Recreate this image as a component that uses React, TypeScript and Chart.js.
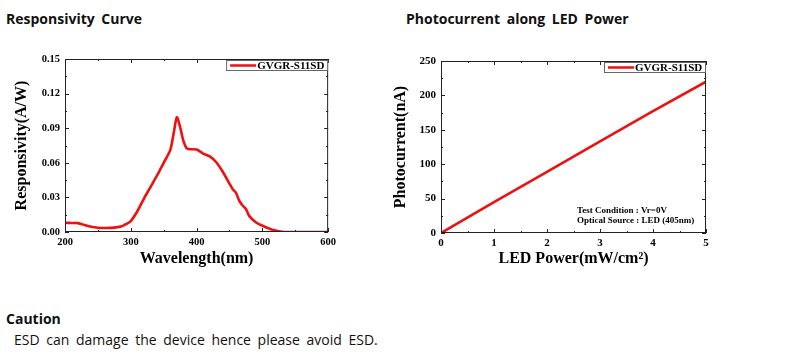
import React, { useEffect, useRef } from "react";
import { Chart, registerables } from "chart.js";

Chart.register(...registerables);

// ---------- Data ----------
const wavelengths = [200, 210, 220, 230, 240, 250, 260, 270, 280, 285, 290, 300, 310, 320, 330, 340, 350, 360, 365, 370, 375, 380, 385, 390, 400, 410, 420, 430, 440, 450, 455, 460, 465, 470, 475, 480, 490, 500, 510, 520, 530, 540, 560, 580, 600];
const responsivity = [0.008, 0.0078, 0.0077, 0.006, 0.0045, 0.0037, 0.0035, 0.0036, 0.0042, 0.0048, 0.006, 0.0095, 0.018, 0.029, 0.039, 0.049, 0.060, 0.071, 0.085, 0.0995, 0.091, 0.079, 0.0725, 0.0718, 0.0715, 0.068, 0.0655, 0.0605, 0.052, 0.042, 0.037, 0.034, 0.027, 0.023, 0.020, 0.014, 0.0085, 0.0055, 0.003, 0.0012, 0.0002, 0.0, 0.0, 0.0, 0.0];
const respXTicks = [200, 300, 400, 500, 600];
const respYTicks = [0, 0.03, 0.06, 0.09, 0.12, 0.15];

const ledPower = [0, 1, 2, 3, 4, 5];
const photocurrent = [0, 45, 89, 133, 177, 220];
const powerXTicks = [0, 1, 2, 3, 4, 5];
const currentYTicks = [0, 50, 100, 150, 200, 250];

const seriesLabel = "GVGR-S11SD";
const noteLines = ["Test Condition : Vr=0V", "Optical Source : LED (405nm)"];

const RED = "#ee1111";
const SERIF = "'Liberation Serif', 'Times New Roman', serif";
const SANS = "'Open Sans', 'Noto Sans', sans-serif";

function mid(arr: number[]) {
  const out: number[] = [];
  for (let i = 0; i < arr.length - 1; i++) out.push((arr[i] + arr[i + 1]) / 2);
  return out;
}

function framePlugin(cfg: {
  xMajor: number[];
  yMajor: number[];
  legendFont: number;
  notes?: string[];
}) {
  return {
    id: "frameDeco",
    afterDraw(chart: any) {
      const { ctx, chartArea: a } = chart;
      const xs = chart.scales.x;
      const ys = chart.scales.y;
      ctx.save();
      ctx.strokeStyle = "#222";
      ctx.lineWidth = 1;
      ctx.strokeRect(a.left + 0.5, a.top + 0.5, a.right - a.left - 1, a.bottom - a.top - 1);
      const drawX = (vals: number[], len: number) => {
        vals.forEach((v) => {
          const p = Math.round(xs.getPixelForValue(v)) + 0.5;
          ctx.beginPath();
          ctx.moveTo(p, a.bottom);
          ctx.lineTo(p, a.bottom - len);
          ctx.moveTo(p, a.top);
          ctx.lineTo(p, a.top + len);
          ctx.stroke();
        });
      };
      const drawY = (vals: number[], len: number) => {
        vals.forEach((v) => {
          const p = Math.round(ys.getPixelForValue(v)) + 0.5;
          ctx.beginPath();
          ctx.moveTo(a.left, p);
          ctx.lineTo(a.left + len, p);
          ctx.moveTo(a.right, p);
          ctx.lineTo(a.right - len, p);
          ctx.stroke();
        });
      };
      drawX(cfg.xMajor, 4);
      drawX(mid(cfg.xMajor), 2);
      drawY(cfg.yMajor, 4);
      drawY(mid(cfg.yMajor), 2);

      // legend box
      const bw = 102;
      const bh = 11;
      const bx = a.right - bw;
      const by = a.top + 1;
      ctx.fillStyle = "#fff";
      ctx.fillRect(bx, by, bw, bh);
      ctx.strokeStyle = "#666";
      ctx.strokeRect(bx + 0.5, by + 0.5, bw - 1, bh - 1);
      const ds = chart.data.datasets[0];
      ctx.strokeStyle = ds.borderColor;
      ctx.lineWidth = 2.5;
      ctx.beginPath();
      ctx.moveTo(bx + 4, by + bh / 2);
      ctx.lineTo(bx + 30, by + bh / 2);
      ctx.stroke();
      ctx.fillStyle = "#000";
      ctx.font = `bold ${cfg.legendFont}px ${SERIF}`;
      ctx.textBaseline = "middle";
      ctx.textAlign = "left";
      ctx.fillText(ds.label, bx + 31, by + bh / 2 + 0.5);

      if (cfg.notes) {
        ctx.font = `bold 9px ${SERIF}`;
        cfg.notes.forEach((t, i) => {
          ctx.fillText(t, a.left + 136, a.bottom - 22 + i * 10);
        });
      }
      ctx.restore();
    },
  };
}

function makeConfig(opts: {
  xs: number[];
  ys: number[];
  xTicks: number[];
  yTicks: number[];
  xTitle: string;
  yTitle: string;
  yFmt: (v: number) => string;
  yWidth: number;
  xHeight: number;
  pad: { top: number; right: number };
  yTitlePad: number;
  tickFont: number;
  tension: number;
  notes?: string[];
}): any {
  const tickFont = { family: SERIF, size: opts.tickFont, weight: "bold" as const };
  const titleFont = { family: SERIF, size: 16, weight: "bold" as const, lineHeight: 1.125 };
  return {
    type: "line",
    data: {
      datasets: [
        {
          label: seriesLabel,
          data: opts.xs.map((x, i) => ({ x, y: opts.ys[i] })),
          borderColor: RED,
          borderWidth: 2.6,
          pointRadius: 0,
          tension: opts.tension,
          fill: false,
        },
      ],
    },
    options: {
      responsive: false,
      animation: false,
      layout: { padding: { left: 0, right: opts.pad.right, top: opts.pad.top, bottom: 0 } },
      plugins: { legend: { display: false }, tooltip: { enabled: false } },
      scales: {
        x: {
          type: "linear",
          min: opts.xTicks[0],
          max: opts.xTicks[opts.xTicks.length - 1],
          afterBuildTicks: (s: any) => {
            s.ticks = opts.xTicks.map((v) => ({ value: v }));
          },
          afterFit: (s: any) => {
            s.height = opts.xHeight;
          },
          ticks: { font: tickFont, color: "#000", padding: 4, maxRotation: 0, autoSkip: false },
          grid: { display: false, drawTicks: false },
          border: { display: false },
          title: {
            display: true,
            text: opts.xTitle,
            font: titleFont,
            color: "#000",
            padding: { top: 0, bottom: 2 },
          },
        },
        y: {
          type: "linear",
          min: opts.yTicks[0],
          max: opts.yTicks[opts.yTicks.length - 1],
          afterBuildTicks: (s: any) => {
            s.ticks = opts.yTicks.map((v) => ({ value: v }));
          },
          afterFit: (s: any) => {
            s.width = opts.yWidth;
          },
          ticks: {
            font: tickFont,
            color: "#000",
            padding: 5,
            autoSkip: false,
            callback: (v: any) => opts.yFmt(Number(v)),
          },
          grid: { display: false, drawTicks: false },
          border: { display: false },
          title: {
            display: true,
            text: opts.yTitle,
            font: titleFont,
            color: "#000",
            padding: { top: opts.yTitlePad, bottom: 0 },
          },
        },
      },
    },
    plugins: [
      framePlugin({
        xMajor: opts.xTicks,
        yMajor: opts.yTicks,
        legendFont: 11,
        notes: opts.notes,
      }),
    ],
  };
}

function ChartCanvas(props: { config: any; left: number; top: number; width: number; height: number }) {
  const ref = useRef<HTMLCanvasElement | null>(null);
  useEffect(() => {
    if (!ref.current) return;
    const c = new Chart(ref.current, props.config);
    return () => c.destroy();
  }, []);
  return (
    <canvas
      ref={ref}
      width={props.width}
      height={props.height}
      style={{ position: "absolute", left: props.left, top: props.top, width: props.width, height: props.height }}
    />
  );
}

const textStyle = (left: number, top: number, size: number, bold: boolean): React.CSSProperties => ({
  position: "absolute",
  left,
  top,
  fontFamily: SANS,
  fontSize: size,
  fontWeight: bold ? 700 : 400,
  lineHeight: `${size}px`,
  color: "#111",
  whiteSpace: "nowrap",
  wordSpacing: "3px",
});

export default function App() {
  const respCfg = makeConfig({
    xs: wavelengths,
    ys: responsivity,
    xTicks: respXTicks,
    yTicks: respYTicks,
    xTitle: "Wavelength(nm)",
    yTitle: "Responsivity(A/W)",
    yFmt: (v) => v.toFixed(2),
    yWidth: 65,
    xHeight: 38,
    pad: { top: 19, right: 11 },
    yTitlePad: 13,
    tickFont: 10.5,
    tension: 0.25,
  });
  const pcCfg = makeConfig({
    xs: ledPower,
    ys: photocurrent,
    xTicks: powerXTicks,
    yTicks: currentYTicks,
    xTitle: "LED Power(mW/cm²)",
    yTitle: "Photocurrent(nA)",
    yFmt: (v) => String(Math.round(v)),
    yWidth: 61,
    xHeight: 37,
    pad: { top: 21, right: 14 },
    yTitlePad: 12,
    tickFont: 11,
    tension: 0,
    notes: noteLines,
  });
  return (
    <div style={{ position: "absolute", left: 0, top: 0, width: 794, height: 364, background: "#fff" }}>
      <div style={textStyle(6, 12, 14, true)}>Responsivity Curve</div>
      <div style={textStyle(406, 12, 14, true)}>Photocurrent along LED Power</div>
      <ChartCanvas config={respCfg} left={0} top={40} width={340} height={230} />
      <ChartCanvas config={pcCfg} left={380} top={40} width={340} height={230} />
      <div style={textStyle(6, 312, 14, true)}>Caution</div>
      <div style={textStyle(14, 333, 14, false)}>ESD can damage the device hence please avoid ESD.</div>
    </div>
  );
}
